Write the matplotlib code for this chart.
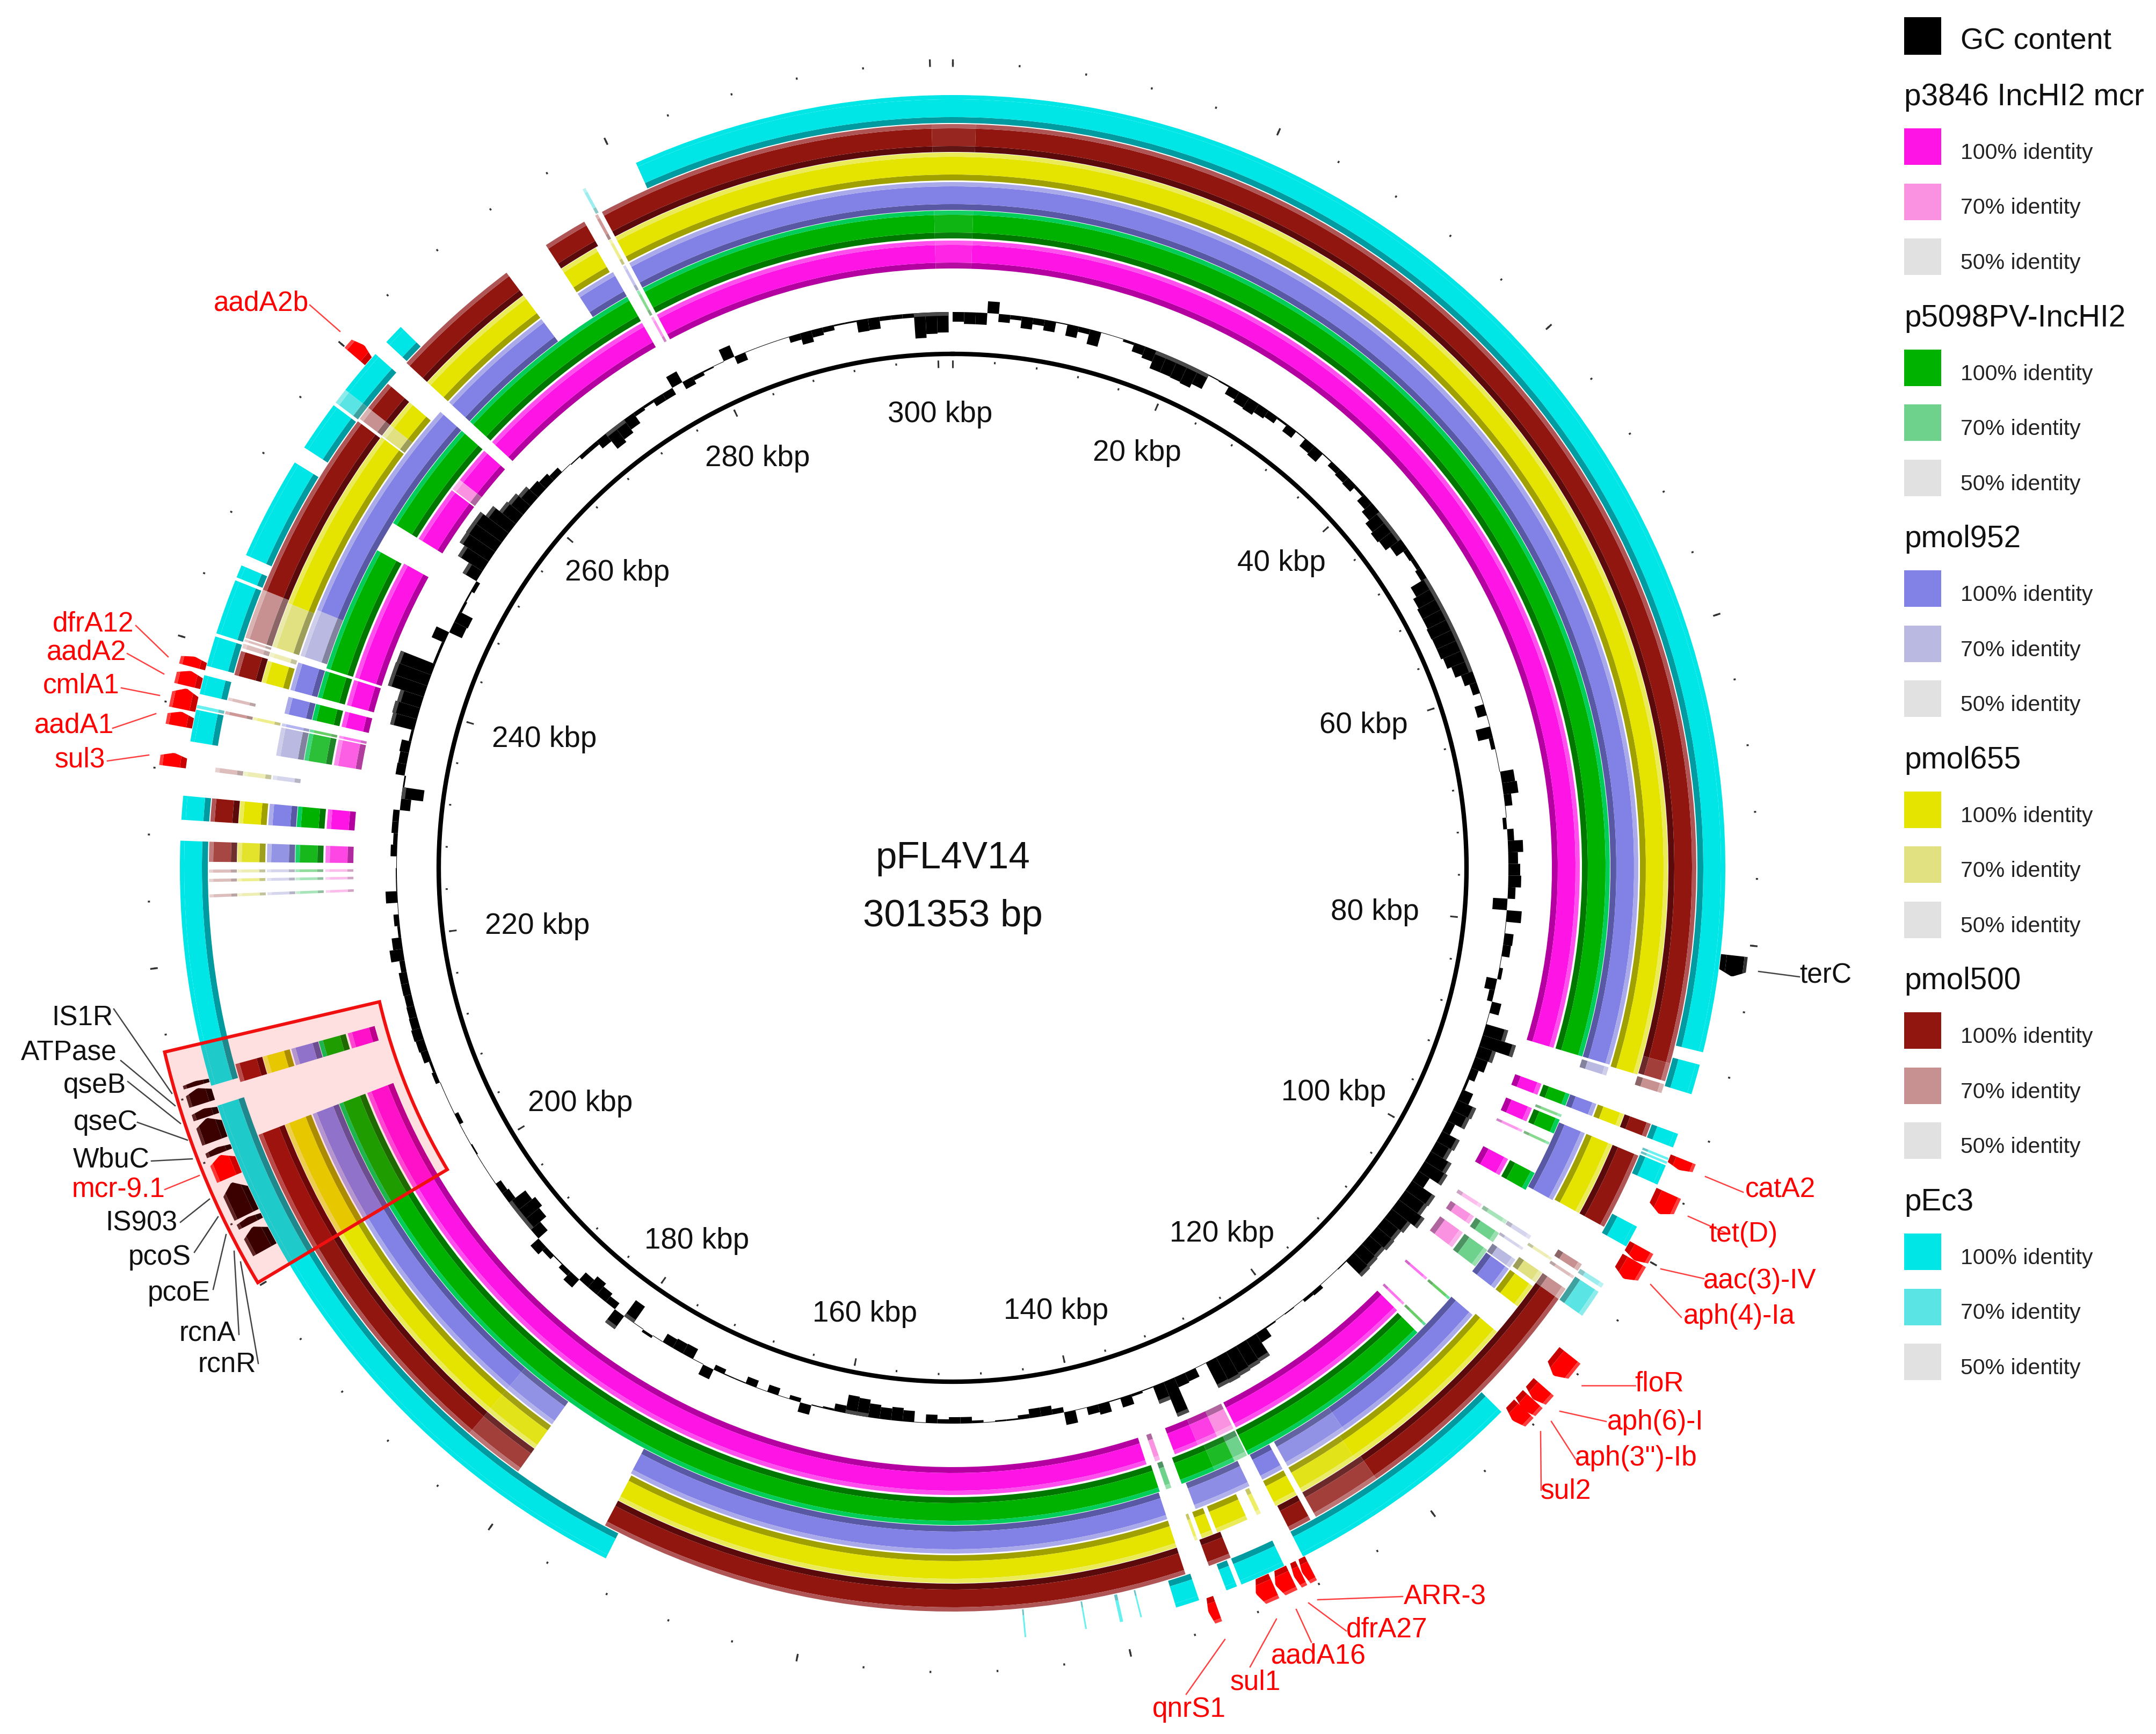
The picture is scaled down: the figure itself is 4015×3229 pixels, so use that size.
import numpy as np
import matplotlib
matplotlib.use("Agg")
import matplotlib.pyplot as plt

plt.rcParams['font.family'] = ['Liberation Sans', 'DejaVu Sans']

# plasmid length in kbp
genome_kbp = 301.353

# GC content per 1 kbp bin (+ outward, - inward)
gc_values = [
    -18, -22, -22, 22, -15, -8, -22, -12, -20, -2, -22, -10, -28, -1, -1, -5, -17, -22, -35, -35,
    -36, -38, -30, -2, -3, -17, -22, -24, -18, -14, -4, -16, -2, -18, -21, -2, -11, -14, -16, -6,
    -18, -25, -34, -38, -35, -25, -10, -8, -12, -35, -42, -45, -45, -47, -46, -46, -42, -34, -23, -14,
    -1, -18, -1, -28, -8, -1, -1, 25, 28, 14, 1, -7, 12, 28, 18, 22, 24, 14, -27, 28,
    1, 17, 15, 1, 7, -20, -10, 18, 1, 43, 65, 33, 25, 15, 5, 22, 38, 35, 16, 37,
    33, 45, 50, 25, 52, 50, 60, 45, 40, 42, 38, 40, 42, 2, 1, 1, 8, 6, 1, 2,
    1, 3, 20, 48, 50, 52, 54, 53, 1, 18, 20, 70, 35, 2, 5, 19, 2, 20, 15, 1,
    24, -10, -17, -17, -8, -3, -3, -1, -5, -12, -12, -8, -16, -1, -21, -25, -22, -26, -33, -35,
    -14, -4, -2, 18, -8, -1, -14, -1, -14, -2, -2, -10, 20, -1, -21, -20, -18, -1, 5, -1,
    -37, 30, -14, -20, -27, -18, 20, 10, 2, 10, 20, -23, -38, -45, -38, -15, -12, -1, -1, -1,
    -3, -1, -1, -8, -1, -1, -1, 8, 5, 14, 16, 18, 16, 15, 14, 15, 15, 10, 25, 18,
    5, 10, 1, 22, 2, 2, 1, 12, 8, 12, 12, -19, -41, -3, 17, 16, 18, 5, 46, 48,
    45, 70, 70, 69, 5, 5, 26, -26, -28, -5, -3, -8, 30, 54, 65, 66, 66, 54, 39, 36,
    30, 22, 18, 12, 1, -2, -8, -8, -18, -36, -30, -23, -8, -5, -14, -14, 23, -15, -8, -3,
    -1, 23, -15, -1, -1, -1, -1, -12, -22, -14, -10, -3, -3, -23, -22, -8, -8, -8, -47, -40, -38,
]

# blast hits per ring: (start kbp, end kbp, identity level)
magenta_hits = [
    (277.8, 300, 100), (300, 301.353, 96), (0, 1.5, 96), (1.5, 89.3, 100), (92.2, 93.1, 100), (94.2, 95.3, 100),
    (96, 96.2, 85), (98.5, 99.9, 100), (102.5, 102.8, 70), (103.6, 104.3, 70), (105.1, 106.5, 70), (109.5, 109.7, 100),
    (112.1, 112.3, 100), (112.9, 128.2, 100), (128.4, 129.8, 70), (129.8, 131.4, 90), (131.4, 133.3, 100),
    (134.5, 134.9, 70), (135.6, 208.4, 100), (212, 213.2, 100), (224.1, 224.3, 70), (225.1, 225.3, 70),
    (225.7, 225.9, 70), (226.4, 227.7, 88), (229, 230.5, 100), (233.9, 235.9, 82), (236, 236.2, 100),
    (236.9, 238.1, 100), (238.6, 240.6, 100), (240.8, 250.3, 100), (252.5, 257, 100), (257.1, 258, 70),
    (258, 260.9, 100), (261.8, 276.5, 100), (277.3, 277.5, 85),
]
green_hits = [
    (277.8, 300, 100), (300, 301.353, 96), (0, 1.5, 96), (1.5, 89.3, 100), (92.2, 93.1, 100), (93.8, 94, 85),
    (94.2, 95.3, 100), (96, 96.2, 85), (98.5, 99.9, 100), (102.5, 102.8, 70), (103.6, 104.4, 70), (105.1, 106.6, 70),
    (109.5, 109.7, 100), (112.1, 112.3, 100), (113, 128.3, 100), (128.4, 129.4, 70), (129.4, 131, 92), (131, 133.6, 100),
    (134.4, 134.8, 70), (135.3, 208.4, 100), (212, 213.2, 100), (224.1, 224.3, 70), (225.1, 225.3, 70),
    (225.7, 225.9, 80), (226.4, 227.7, 94), (229, 230.5, 100), (233.9, 235.9, 88), (236, 236.2, 100),
    (236.9, 238.1, 100), (238.6, 240.6, 100), (240.8, 250.2, 100), (252.5, 260.9, 100), (261.8, 276.5, 100),
    (277.3, 277.5, 85),
]
purple_hits = [
    (277.8, 301.353, 100), (0, 89.3, 100), (89.5, 90.1, 70), (92.2, 93.1, 100), (94.4, 99.6, 100),
    (102.5, 102.8, 70), (103.5, 103.7, 70), (104.5, 105.2, 70), (105.3, 107, 100), (109.4, 121.5, 100),
    (121.5, 126.2, 92), (126.6, 128.2, 100), (129.2, 133.3, 94), (135.4, 174.1, 100), (180.6, 184.6, 92),
    (184.6, 208.4, 100), (212, 213.2, 100), (224.1, 224.3, 70), (225.1, 225.3, 70), (225.7, 225.9, 70),
    (226.4, 227.7, 90), (229, 230.5, 100), (232.2, 232.5, 70), (233.9, 235.9, 70), (236, 236.2, 100),
    (236.9, 238.1, 100), (238.6, 240.6, 100), (241.1, 244.5, 70), (244.5, 260.9, 100), (261.8, 270.5, 100),
    (273.6, 276.5, 100), (277.3, 277.5, 85),
]
yellow_hits = [
    (277.8, 301.353, 100), (0, 89.4, 100), (92.2, 93.1, 100), (94.4, 99.5, 100), (103, 103.2, 70), (104.2, 105, 70),
    (105.3, 107, 100), (109.2, 122, 100), (122, 126.2, 94), (126.6, 128.2, 100), (129.3, 129.6, 100), (130.3, 132.5, 100),
    (132.8, 133.6, 100), (133.9, 134.1, 100), (135.4, 174, 100), (180.6, 184.6, 94), (184.6, 208.4, 100),
    (212, 213.2, 100), (224.1, 224.3, 70), (225.1, 225.3, 85), (225.7, 225.9, 70), (226.4, 227.7, 90), (229, 230.5, 100),
    (232.2, 232.5, 70), (236, 236.2, 85), (238.6, 240.1, 100), (240.4, 240.7, 70), (241.1, 244.2, 70), (244.2, 257, 100),
    (257.1, 258, 70), (258, 260, 100), (261.8, 270.5, 100), (273.6, 276.3, 100), (277.3, 277.5, 85),
]
maroon_hits = [
    (277.8, 300, 100), (300, 301.353, 96), (0, 1.5, 96), (1.5, 88.1, 100), (88.1, 89.3, 90), (89.5, 90.1, 70),
    (92.2, 93.1, 100), (94.4, 99.5, 100), (102.3, 102.8, 70), (103.2, 103.4, 70), (104.2, 105, 70), (105, 121.6, 100),
    (121.6, 126.2, 90), (126.6, 128.1, 100), (132.3, 133.8, 100), (135.4, 174, 100), (180.6, 184.6, 90),
    (184.6, 208.4, 100), (212, 213.2, 100), (224.1, 224.3, 70), (225.1, 225.3, 70), (225.7, 225.9, 70),
    (226.4, 227.7, 88), (229, 230.5, 100), (232.2, 232.5, 70), (236, 236.2, 85), (236.9, 237.1, 70),
    (238.6, 240.2, 100), (240.4, 240.7, 70), (240.85, 241, 70), (241.1, 244.4, 70), (244.4, 256.9, 100),
    (257.1, 258, 70), (258, 260, 100), (261.8, 270.5, 100), (273.6, 276.5, 100), (277.3, 277.5, 85),
]
cyan_hits = [
    (281.1, 301.353, 100), (0, 86.9, 100), (87.7, 89.6, 100), (92.2, 93.1, 100), (93.8, 93.95, 100), (94.05, 94.2, 100),
    (94.3, 95.6, 100), (98.5, 99.9, 100), (102.6, 102.9, 70), (103.2, 105, 70), (112.8, 128.1, 100), (129.4, 132.3, 100),
    (132.6, 133.3, 100), (135.1, 136.6, 100), (138.8, 138.9, 100), (140, 140.2, 100), (142.3, 142.4, 100), (146.1, 146.2, 100),
    (173, 211, 100), (212.3, 227.7, 100), (229, 230.5, 100), (233.9, 235.9, 100), (236, 236.2, 100), (236.9, 238.1, 100),
    (238.7, 240.6, 100), (240.8, 244.3, 100), (244.5, 245.3, 100), (246, 252.5, 100), (253.6, 256.8, 100),
    (257, 258, 70), (258, 260.9, 100), (261.9, 263.2, 100), (277.4, 277.6, 70),
]

# annotated genes: (name, start kbp, end kbp)
red_genes = [
    ("catA2", 93.55, 94.25), ("tet(D)", 95.8, 97.2), ("aac(3)-IV", 99.5, 100.4), ("aph(4)-Ia", 100.4, 101.7),
    ("floR", 107.4, 109), ("aph(6)-I", 109.9, 110.9), ("aph(3'')-Ib", 110.9, 111.8), ("sul2", 111.7, 112.7),
    ("ARR-3", 128, 128.6), ("dfrA27", 128.65, 129.15), ("aadA16", 129.3, 130.4), ("sul1", 130.5, 131.7),
    ("qnrS1", 134.2, 134.8), ("mcr-9.1", 206.6, 208.1), ("sul3", 232.2, 233.05), ("aadA1", 234.7, 235.6),
    ("cmlA1", 235.75, 237.05), ("aadA2", 237.2, 238.15), ("dfrA12", 238.4, 239.05), ("aadA2b", 259.95, 260.85),
]
dark_genes = [
    ("terC", 80.7, 82), ("pcoE", 201.7, 203.3), ("pcoS", 203.5, 203.95), ("IS903", 204.1, 206.3), ("WbuC", 208.2, 208.6),
    ("qseC", 209, 210.5), ("qseB", 210.55, 211.1), ("ATPase", 211.4, 212.4), ("IS1R", 212.55, 212.85),
]

kbp_labels = [20, 40, 60, 80, 100, 120, 140, 160, 180, 200, 220, 240, 260, 280, 300]

legend_names = ["p3846 IncHI2 mcr", "p5098PV-IncHI2", "pmol952", "pmol655", "pmol500", "pEc3"]
legend_full = ["#ff14e6", "#00b200", "#8282e6", "#e4e400", "#91160f", "#00e6e6"]
legend_pale = ["#fa91e1", "#6ed28c", "#b9b9e1", "#e1e182", "#c89191", "#5ae4e4"]
legend_grey = "#e1e1e1"

# layout in pixels
W, H = 4015, 3230
CX, CY = 1774, 1617
RMAX = 1600
ring_r0 = [1116, 1172, 1225, 1280, 1333, 1387]
ring_w = 52
ring_inner = ["#b400a0", "#007800", "#5858a4", "#a0a000", "#5a0a0a", "#009ba0"]
ring_outer = ["#ff50ee", "#00cd5a", "#aaaaeb", "#ebeb5a", "#af5555", "#00e6e6"]
label_xy = [(827, 327), (932, 407), (992, 525), (1000, 661), (970, 792), (889, 895), (768, 951), (629, 953),
            (507, 900), (422, 800), (391, 671), (396, 535), (449, 414), (551, 331), (684, 299)]
SCALE = 2.56  # the label positions above were read on a 1568 px wide view
TEXT_DY = 7  # va='center' sits a little high


def th(kbp):
    return np.asarray(kbp) / genome_kbp * 2 * np.pi


def mix(c1, c2, t):
    a = np.array(matplotlib.colors.to_rgb(c1))
    b = np.array(matplotlib.colors.to_rgb(c2))
    return tuple(a + (b - a) * t)


def draw_ring(ax, hits, i):
    r0 = ring_r0[i]
    for s, e, lev in hits:
        t = (100 - lev) / 30.0
        main = mix(legend_full[i], legend_pale[i], t)
        inner = mix(ring_inner[i], mix(legend_pale[i], "black", 0.3), t)
        outer = mix(ring_outer[i], mix(legend_pale[i], "white", 0.3), t)
        a = 0.6 if e - s <= 0.35 else 1.0  # thin slivers look washed out
        ax.bar(th(s), 11, th(e - s), bottom=r0, align='edge', color=inner, alpha=a, linewidth=0, zorder=2)
        ax.bar(th(s), 33, th(e - s), bottom=r0 + 11, align='edge', color=main, alpha=a, linewidth=0, zorder=2)
        ax.bar(th(s), 8, th(e - s), bottom=r0 + 44, align='edge', color=outer, alpha=a, linewidth=0, zorder=2)


def gene_shape(ax, s, e, fa, fb, color):
    r0, r1 = 1440, 1490
    f = np.linspace(fa, fb, 9)
    tip = s + (e - s) * (0.72 + 0.28 * (1 - np.abs(2 * f - 1)))
    ts = np.concatenate([tip, [s, s]])
    rs = np.concatenate([r0 + f * (r1 - r0), [r0 + fb * (r1 - r0), r0 + fa * (r1 - r0)]])
    ax.fill(th(ts), rs, color=color, linewidth=0, zorder=4)


def draw_gene(ax, s, e, main, dark, light):
    gene_shape(ax, s, e, 0.0, 0.22, dark)
    gene_shape(ax, s, e, 0.22, 0.88, main)
    gene_shape(ax, s, e, 0.88, 1.0, light)


fig = plt.figure(figsize=(W / 100, H / 100), dpi=100, facecolor="white")

# polar axes, radius unit is one pixel
ax = fig.add_axes([(CX - RMAX) / W, (H - CY - RMAX) / H, 2 * RMAX / W, 2 * RMAX / H], projection='polar')
ax.set_theta_zero_location('N')
ax.set_theta_direction(-1)

ring_hits = [magenta_hits, green_hits, purple_hits, yellow_hits, maroon_hits, cyan_hits]
for i, hits in enumerate(ring_hits):
    draw_ring(ax, hits, i)

# GC content bars, tall ones have a grey strip on the outer edge
gc_pos = np.arange(len(gc_values))
gc_arr = np.array(gc_values, dtype=float)
ax.bar(th(gc_pos), gc_arr, th(1.0), bottom=1035, align='edge', color="black", linewidth=0, zorder=3)
tall = np.abs(gc_arr) >= 30
gc_top = np.maximum(gc_arr, 0)
ax.bar(th(gc_pos[tall]), 7, th(1.0), bottom=1035 + gc_top[tall] - 7, align='edge', color="#4a4a4a", linewidth=0, zorder=3)

# backbone circle and ticks
circle = np.linspace(0, 2 * np.pi, 721)
ax.plot(circle, np.full(721, 957), color="black", lw=6.0, zorder=3)
minor = np.arange(0, 300, 4)
major = np.arange(0, 301, 20)
ax.vlines(th(minor), 941, 945, color="#333333", lw=2.2, zorder=3)
ax.vlines(th(major), 931, 945, color="#333333", lw=2.2, zorder=3)
ax.vlines(th(minor), 1496, 1500, color="#333333", lw=2.4, zorder=3)
ax.vlines(th(major), 1492, 1506, color="#333333", lw=2.4, zorder=3)

# genes
for name, s, e in red_genes:
    draw_gene(ax, s, e, "#ff0000", "#c80000", "#ff3c3c")
for name, s, e in dark_genes:
    if name == "terC":
        draw_gene(ax, s, e, "#000000", "#000000", "#333333")
    else:
        draw_gene(ax, s, e, "#200000", "#100000", "#4a2a2a")

# highlighted region
ax.bar(th(200.2), 1507 - 1096, th(14.8), bottom=1096, align='edge', color=(1, 0, 0, 0.12), linewidth=0, zorder=5)
ax.bar(th(200.2), 1507 - 1096, th(14.8), bottom=1096, align='edge', facecolor="none", edgecolor="#f01010",
       linewidth=4.4, zorder=6)

ax.set_rlim(0, RMAX)
ax.axis('off')

# second axes on top for text, in image pixels
ov = fig.add_axes([0, 0, 1, 1])
ov.set_xlim(0, W)
ov.set_ylim(H, 0)
ov.axis('off')
ov.patch.set_alpha(0)

for val, (lx, ly) in zip(kbp_labels, label_xy):
    ov.text(lx * SCALE, ly * SCALE + TEXT_DY, "%d kbp" % val, ha='center', va='center', fontsize=39.5, color="#111111")
ov.text(693 * SCALE, 622 * SCALE + TEXT_DY, "pFL4V14", ha='center', va='center', fontsize=51, color="#111111")
ov.text(693 * SCALE, 664 * SCALE + TEXT_DY, "301353 bp", ha='center', va='center', fontsize=51, color="#111111")

# gene labels: (text, x, y, colour, leader line)
gene_labels = [
    ("terC", 1328, 707, "black", (3275, 1810, 3351, 1820)),
    ("catA2", 1295, 863, "red", (3176, 2192, 3246, 2221)),
    ("tet(D)", 1268, 895, "red", (3144, 2266, 3214, 2297)),
    ("aac(3)-IV", 1280, 929, "red", (3093, 2364, 3173, 2382)),
    ("aph(4)-Ia", 1265, 955, "red", (3074, 2393, 3131, 2454)),
    ("floR", 1207, 1004, "red", (2946, 2581, 3045, 2581)),
    ("aph(6)-I", 1204, 1032, "red", (2905, 2629, 2991, 2648)),
    ("aph(3'')-Ib", 1190, 1058, "red", (2889, 2648, 2934, 2718)),
    ("sul2", 1139, 1082, "red", (2869, 2667, 2870, 2776)),
    ("ARR-3", 1051, 1159, "red", (2454, 2980, 2612, 2974)),
    ("dfrA27", 1009, 1183, "red", (2437, 2986, 2507, 3038)),
    ("aadA16", 959, 1202, "red", (2414, 2998, 2442, 3059)),
    ("sul1", 913, 1221, "red", (2377, 3016, 2328, 3105)),
    ("qnrS1", 865, 1241, "red", (2281, 3054, 2209, 3156)),
    ("aadA2b", 190, 218, "red", (577, 569, 633, 618)),
    ("dfrA12", 68, 451, "red", (253, 1166, 313, 1224)),
    ("aadA2", 63, 472, "red", (237, 1218, 305, 1256)),
    ("cmlA1", 59, 496, "red", (226, 1282, 297, 1296)),
    ("aadA1", 54, 525, "red", (210, 1357, 290, 1330)),
    ("sul3", 58, 550, "red", (200, 1418, 277, 1407)),
    ("IS1R", 60, 738, "black", (212, 1880, 320, 2037)),
    ("ATPase", 50, 763, "black", (225, 1976, 326, 2060)),
    ("qseB", 69, 787, "black", (238, 2015, 336, 2093)),
    ("qseC", 77, 814, "black", (256, 2091, 349, 2124)),
    ("WbuC", 81, 841, "black", (282, 2163, 358, 2159)),
    ("mcr-9.1", 86, 863, "red", (307, 2216, 371, 2190)),
    ("IS903", 103, 887, "black", (336, 2277, 390, 2234)),
    ("pcoS", 116, 912, "black", (362, 2333, 406, 2267)),
    ("pcoE", 130, 938, "black", (397, 2402, 421, 2300)),
    ("rcnA", 151, 967, "black", (445, 2486, 436, 2331)),
    ("rcnR", 165, 990, "black", (481, 2540, 448, 2351)),
]
for txt, lx, ly, col, seg in gene_labels:
    ov.text(lx * SCALE, ly * SCALE + TEXT_DY, txt, ha='center', va='center', fontsize=37, color="#111111" if col == "black" else "#ff0000")
    lc = "#444444" if col == "black" else "#ff4040"
    ov.plot([seg[0], seg[2]], [seg[1], seg[3]], color=lc, lw=1.8)

# legend
ov.add_patch(plt.Rectangle((3546, 33), 69, 70, color="black", lw=0))
ov.text(3651, 70 + TEXT_DY, "GC content", ha='left', va='center', fontsize=40, color="#111111")
for j, name in enumerate(legend_names):
    top = 174 + 411.6 * j
    ov.text(3546, top + TEXT_DY, name, ha='left', va='center', fontsize=40.8, color="#111111")
    rows = [(legend_full[j], "100% identity"), (legend_pale[j], "70% identity"), (legend_grey, "50% identity")]
    for n, (col, lab) in enumerate(rows):
        y0 = top + 66 + 102.5 * n
        ov.add_patch(plt.Rectangle((3546, y0), 69, 68, color=col, lw=0))
        ov.text(3651, y0 + 38 + TEXT_DY, lab, ha='left', va='center', fontsize=29.5, color="#222222")

fig.savefig("out.png", dpi=100)
